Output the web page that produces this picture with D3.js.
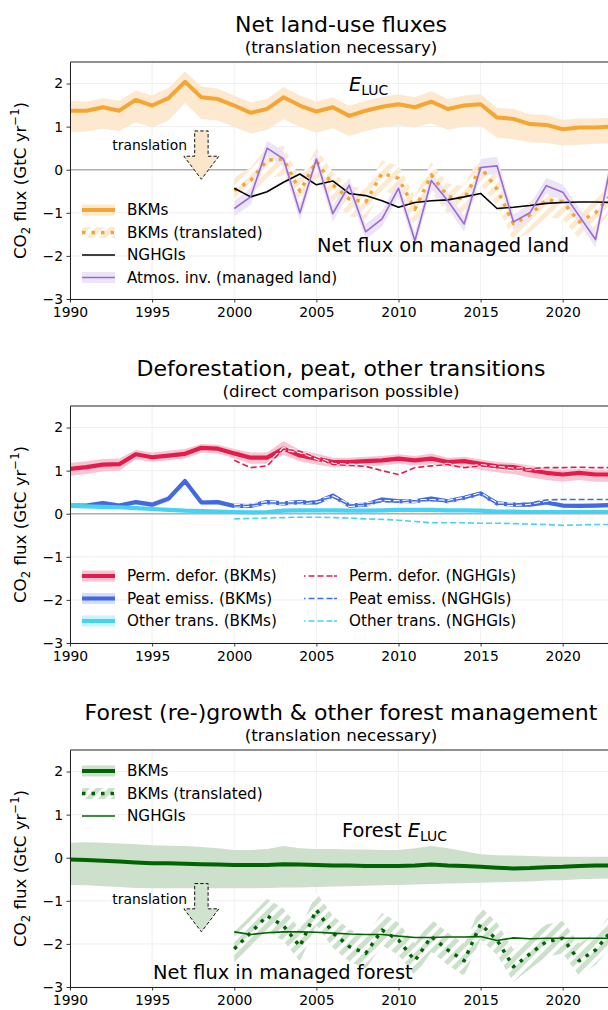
<!DOCTYPE html>
<html>
<head>
<meta charset="utf-8">
<script src="https://cdn.jsdelivr.net/npm/d3@7"></script>
<style>
  body { margin: 0; background: #fff; }
  svg { display: block; font-family: "DejaVu Sans", sans-serif; }
</style>
</head>
<body>
<svg id="chart" width="608" height="1010"></svg>
<script>
// ---------- data (GtC / yr) ----------
const years = d3.range(1990, 2024);       // BKM series
const yearsNG = d3.range(2000, 2024);     // inventory-era series
const xTicks = [1990, 1995, 2000, 2005, 2010, 2015, 2020];
const yTicks = [-3, -2, -1, 0, 1, 2];

// Panel 1: net land-use fluxes
const elucBKM = [1.37,1.37,1.45,1.37,1.62,1.49,1.66,2.04,1.68,1.64,
                 1.49,1.32,1.41,1.68,1.49,1.35,1.45,1.25,1.37,1.46,
                 1.52,1.45,1.58,1.41,1.49,1.52,1.21,1.18,1.06,1.04,
                 0.94,0.98,0.98,1.00];
const elucHi  = [1.60,1.58,1.66,1.60,1.84,1.72,1.90,2.28,1.93,1.88,
                 1.72,1.56,1.64,1.92,1.72,1.58,1.68,1.48,1.60,1.69,
                 1.75,1.68,1.82,1.64,1.72,1.75,1.44,1.41,1.29,1.27,
                 1.16,1.19,1.19,1.21];
const elucLo  = [0.87,0.89,0.95,0.90,1.10,0.98,1.14,1.55,1.18,1.14,
                 0.99,0.84,0.92,1.17,0.99,0.86,0.96,0.78,0.90,0.98,
                 1.03,0.98,1.08,0.93,1.00,1.02,0.74,0.71,0.64,0.62,
                 0.56,0.58,0.60,0.61];
const elucTrans   = [-0.48,-0.25,0.22,0.25,-0.50,0.20,-0.35,-0.68,-0.75,-0.08,
                     -0.20,-0.92,-0.12,-0.62,-0.68,0.06,-0.45,-1.25,-1.05,-0.70,
                     -0.74,-1.21,-1.00,-0.55];
const elucTransHi = [-0.18,0.05,0.52,0.55,-0.20,0.50,-0.05,-0.38,-0.45,0.22,
                     0.10,-0.62,0.18,-0.32,-0.38,0.36,-0.15,-0.95,-0.75,-0.40,
                     -0.44,-0.91,-0.70,-0.25];
const elucTransLo = [-0.88,-0.65,-0.18,-0.15,-0.90,-0.20,-0.75,-1.08,-1.15,-0.48,
                     -0.60,-1.32,-0.52,-1.02,-1.08,-0.34,-0.85,-1.65,-1.45,-1.10,
                     -1.14,-1.61,-1.40,-0.95];
const ngTotal = [-0.43,-0.63,-0.51,-0.29,-0.10,-0.35,-0.26,-0.55,-0.60,-0.72,
                 -0.87,-0.76,-0.72,-0.70,-0.63,-0.55,-0.90,-0.87,-0.83,-0.78,
                 -0.76,-0.75,-0.75,-0.76];
const atmos   = [-0.90,-0.63,0.50,0.25,-1.00,0.25,-1.02,-0.36,-1.44,-1.14,
                 -0.43,-1.65,-0.25,-0.72,-1.26,0.05,0.09,-1.21,-1.00,-0.37,
                 -0.52,-1.07,-1.62,0.25];
const atmosHi = [-0.72,-0.45,0.68,0.43,-0.82,0.43,-0.84,-0.18,-1.26,-0.96,
                 -0.25,-1.47,-0.07,-0.54,-1.08,0.25,0.30,-1.03,-0.82,-0.19,
                 -0.34,-0.89,-1.44,0.43];
const atmosLo = [-1.08,-0.81,0.32,0.07,-1.18,0.07,-1.20,-0.54,-1.62,-1.32,
                 -0.61,-1.83,-0.43,-0.90,-1.44,-0.13,-0.10,-1.39,-1.18,-0.55,
                 -0.70,-1.25,-1.80,0.07];

// Panel 2: deforestation, peat, other transitions
const deforBKM = [1.04,1.08,1.14,1.15,1.38,1.31,1.35,1.39,1.53,1.51,
                  1.40,1.30,1.30,1.51,1.35,1.28,1.20,1.20,1.22,1.24,
                  1.28,1.24,1.28,1.20,1.22,1.16,1.10,1.08,1.01,0.95,
                  0.91,0.95,0.91,0.91];
const deforHi  = [1.18,1.22,1.27,1.28,1.48,1.42,1.46,1.50,1.62,1.60,
                  1.50,1.42,1.42,1.68,1.48,1.40,1.30,1.30,1.32,1.34,
                  1.38,1.34,1.40,1.30,1.32,1.26,1.20,1.18,1.12,1.06,
                  1.02,1.05,1.02,1.02];
const deforLo  = [0.88,0.92,0.98,1.00,1.26,1.20,1.24,1.28,1.42,1.40,
                  1.28,1.16,1.16,1.36,1.22,1.14,1.08,1.08,1.10,1.12,
                  1.16,1.12,1.14,1.08,1.08,1.02,0.96,0.92,0.84,0.78,
                  0.74,0.78,0.74,0.74];
const deforNG  = [1.24,1.07,1.11,1.50,1.45,1.30,1.14,1.12,1.10,1.00,
                  0.91,1.07,1.11,1.14,1.07,1.11,1.07,1.03,1.05,1.07,
                  1.07,1.08,1.07,1.07];
const peatBKM  = [0.19,0.19,0.25,0.19,0.27,0.21,0.35,0.76,0.26,0.27,
                  0.18,0.18,0.27,0.24,0.27,0.26,0.42,0.19,0.21,0.33,
                  0.29,0.29,0.35,0.29,0.37,0.47,0.24,0.21,0.21,0.26,
                  0.19,0.18,0.19,0.20];
const peatHi   = [0.24,0.24,0.30,0.24,0.32,0.27,0.42,0.82,0.31,0.32,
                  0.23,0.23,0.32,0.29,0.32,0.31,0.47,0.24,0.26,0.38,
                  0.34,0.34,0.40,0.34,0.42,0.52,0.29,0.26,0.26,0.31,
                  0.24,0.23,0.24,0.25];
const peatLo   = [0.14,0.14,0.20,0.14,0.22,0.15,0.28,0.70,0.21,0.22,
                  0.13,0.13,0.22,0.19,0.22,0.21,0.37,0.14,0.16,0.28,
                  0.24,0.24,0.30,0.24,0.32,0.42,0.19,0.16,0.16,0.21,
                  0.14,0.13,0.14,0.15];
const peatNG   = [0.18,0.20,0.25,0.25,0.25,0.30,0.38,0.20,0.22,0.28,
                  0.27,0.30,0.30,0.28,0.35,0.45,0.22,0.22,0.25,0.32,
                  0.33,0.33,0.33,0.33];
const otherBKM = [0.18,0.17,0.16,0.15,0.13,0.11,0.09,0.07,0.06,0.05,
                  0.04,0.03,0.04,0.07,0.08,0.08,0.08,0.07,0.07,0.08,
                  0.09,0.09,0.09,0.08,0.08,0.07,0.05,0.05,0.04,0.04,
                  0.04,0.04,0.04,0.04];
const otherHi  = [0.21,0.20,0.19,0.18,0.16,0.14,0.12,0.10,0.09,0.08,
                  0.07,0.06,0.07,0.10,0.11,0.11,0.11,0.10,0.10,0.11,
                  0.12,0.12,0.12,0.11,0.11,0.10,0.08,0.08,0.07,0.07,
                  0.07,0.07,0.07,0.07];
const otherLo  = [0.15,0.14,0.13,0.12,0.10,0.08,0.06,0.04,0.03,0.02,
                  0.01,0.00,0.01,0.04,0.05,0.05,0.05,0.04,0.04,0.05,
                  0.06,0.06,0.06,0.05,0.05,0.04,0.02,0.02,0.01,0.01,
                  0.01,0.01,0.01,0.01];
const otherNG  = [-0.12,-0.11,-0.10,-0.09,-0.08,-0.08,-0.09,-0.10,-0.12,-0.13,
                  -0.15,-0.18,-0.21,-0.21,-0.21,-0.22,-0.22,-0.23,-0.24,-0.25,
                  -0.27,-0.26,-0.25,-0.25];

// Panel 3: forest (re-)growth & other forest management
const forestBKM = [-0.04,-0.05,-0.07,-0.09,-0.11,-0.13,-0.13,-0.14,-0.15,-0.16,
                   -0.17,-0.17,-0.17,-0.15,-0.16,-0.17,-0.18,-0.18,-0.19,-0.19,
                   -0.19,-0.18,-0.16,-0.18,-0.19,-0.21,-0.23,-0.25,-0.24,-0.22,
                   -0.21,-0.19,-0.18,-0.18];
const forestHi  = [0.35,0.36,0.35,0.33,0.31,0.29,0.28,0.27,0.25,0.22,
                   0.18,0.18,0.20,0.27,0.22,0.20,0.20,0.19,0.19,0.18,
                   0.18,0.22,0.27,0.22,0.15,0.08,0.06,0.05,0.04,0.03,
                   0.02,0.02,0.02,0.02];
const forestLo  = [-0.63,-0.64,-0.66,-0.68,-0.70,-0.71,-0.71,-0.71,-0.71,-0.71,
                   -0.71,-0.71,-0.70,-0.69,-0.69,-0.68,-0.67,-0.66,-0.65,-0.64,
                   -0.63,-0.62,-0.61,-0.60,-0.59,-0.58,-0.57,-0.56,-0.55,-0.53,
                   -0.52,-0.50,-0.49,-0.48];
const forestTrans   = [-2.12,-1.74,-1.35,-1.58,-2.06,-1.21,-1.74,-2.06,-2.22,-1.68,
                       -1.91,-2.39,-1.83,-2.14,-2.39,-1.54,-1.91,-2.53,-2.23,-1.95,
                       -1.87,-2.39,-2.14,-1.68];
const forestTransHi = [-1.72,-1.34,-0.95,-1.18,-1.66,-0.81,-1.34,-1.66,-1.82,-1.28,
                       -1.51,-1.99,-1.43,-1.74,-1.99,-1.14,-1.51,-2.13,-1.83,-1.55,
                       -1.47,-1.99,-1.74,-1.28];
const forestTransLo = [-2.47,-2.09,-1.70,-1.93,-2.41,-1.56,-2.09,-2.41,-2.57,-2.03,
                       -2.26,-2.74,-2.18,-2.49,-2.74,-1.89,-2.26,-2.88,-2.58,-2.30,
                       -2.22,-2.74,-2.49,-2.03];
const forestNG = [-1.72,-1.78,-1.74,-1.72,-1.72,-1.73,-1.75,-1.77,-1.78,-1.78,
                  -1.82,-1.85,-1.85,-1.84,-1.84,-1.83,-1.92,-1.86,-1.88,-1.87,
                  -1.87,-1.87,-1.87,-1.87];

// ---------- styling ----------
const C = {
  orange: "#f5a532", orangeBand: "#fde9cf", orangeArrow: "#fce6c9",
  purple: "#9a6acf", purpleBand: "#ece4f7",
  red: "#e31c4c", redBand: "#f7c5d1",
  blue: "#4169e1", blueBand: "#d5ddf8",
  cyan: "#45d2f3", cyanBand: "#cdf2fb",
  green: "#006400", greenBand: "#cce0cc", greenArrow: "#cfe3cf",
  grid: "#ebebeb", zero: "#b0b0b0"
};
const FS_TICK = 13.9, FS_LEG = 15.2, FS_TITLE = 22, FS_SUB = 16.7, FS_ANN = 19.4;

const svg = d3.select("#chart");
const defs = svg.append("defs");
const X0 = 70, X1 = 612, PH = 237;
const x = d3.scaleLinear().domain([1990, 2023]).range([X0, X1]);

function hatch(id, bg) {
  const p = defs.append("pattern").attr("id", id)
    .attr("patternUnits", "userSpaceOnUse")
    .attr("width", 9).attr("height", 9)
    .attr("patternTransform", "rotate(45)");
  p.append("rect").attr("width", 9).attr("height", 9).attr("fill", bg);
  p.append("rect").attr("width", 4).attr("height", 9).attr("fill", "#fff");
}
hatch("hatchOrange", C.orangeBand);
hatch("hatchGreen", C.greenBand);

const pairs = (ts, vs) => ts.map((t, i) => [t, vs[i]]);
const triples = (ts, lo, hi) => ts.map((t, i) => [t, lo[i], hi[i]]);

function makePanel(top, idx, title, subtitle) {
  const y = d3.scaleLinear().domain([-3, 2.5]).range([top + PH, top]);
  const g = svg.append("g");
  defs.append("clipPath").attr("id", "clip" + idx)
    .append("rect").attr("x", X0).attr("y", top).attr("width", X1 - X0).attr("height", PH);

  // grid
  const grid = g.append("g").attr("stroke", C.grid).attr("stroke-width", 0.8);
  grid.selectAll(".gx").data(xTicks).join("line")
    .attr("x1", d => x(d)).attr("x2", d => x(d)).attr("y1", top).attr("y2", top + PH);
  grid.selectAll(".gy").data(yTicks).join("line")
    .attr("x1", X0).attr("x2", X1).attr("y1", d => y(d)).attr("y2", d => y(d));

  // zero reference
  g.append("line").attr("x1", X0).attr("x2", X1).attr("y1", y(0)).attr("y2", y(0))
    .attr("stroke", C.zero).attr("stroke-width", 1.6);

  const plot = g.append("g").attr("clip-path", `url(#clip${idx})`);

  // axes
  const ax = g.append("g").attr("transform", `translate(0,${top + PH})`)
    .call(d3.axisBottom(x).tickValues(xTicks).tickFormat(d3.format("d"))
      .tickSize(3.5).tickPadding(3).tickSizeOuter(0));
  const ay = g.append("g").attr("transform", `translate(${X0},0)`)
    .call(d3.axisLeft(y).tickValues(yTicks).tickFormat(d3.format("d"))
      .tickSize(3.5).tickPadding(3.5).tickSizeOuter(0));
  [ax, ay].forEach(a => {
    a.selectAll("text").attr("font-size", FS_TICK).attr("font-family", "DejaVu Sans").attr("fill", "#000");
    a.selectAll("line").attr("stroke", "#222").attr("stroke-width", 0.9);
    a.select(".domain").attr("stroke", "#222").attr("stroke-width", 1);
  });
  ax.selectAll("text").attr("dy", "0.85em");
  g.append("line").attr("x1", X0).attr("x2", X1).attr("y1", top).attr("y2", top)
    .attr("stroke", "#222").attr("stroke-width", 1);
  g.append("line").attr("x1", X1).attr("x2", X1).attr("y1", top).attr("y2", top + PH)
    .attr("stroke", "#222").attr("stroke-width", 1);

  // y label
  const yl = g.append("text")
    .attr("transform", `translate(26,${top + PH / 2}) rotate(-90)`)
    .attr("text-anchor", "middle").attr("font-size", 16.7);
  yl.append("tspan").text("CO");
  yl.append("tspan").attr("font-size", "70%").attr("dy", 4).text("2");
  yl.append("tspan").attr("dy", -4).text(" flux (GtC yr");
  yl.append("tspan").attr("font-size", "70%").attr("dy", -7).text("−1");
  yl.append("tspan").attr("dy", 7).text(")");

  // titles
  g.append("text").attr("x", (X0 + X1) / 2).attr("y", top - 30)
    .attr("text-anchor", "middle").attr("font-size", FS_TITLE).text(title);
  g.append("text").attr("x", (X0 + X1) / 2).attr("y", top - 9)
    .attr("text-anchor", "middle").attr("font-size", FS_SUB).text(subtitle);

  return { g, y, plot, top };
}

function band(p, data, fill) {
  p.plot.append("path").datum(data)
    .attr("d", d3.area().x(d => x(d[0])).y0(d => p.y(d[1])).y1(d => p.y(d[2])))
    .attr("fill", fill).attr("stroke", "none");
}
function line(p, data, color, width, dash, halo) {
  const gen = d3.line().x(d => x(d[0])).y(d => p.y(d[1]));
  if (halo) {
    p.plot.append("path").datum(data).attr("d", gen).attr("fill", "none")
      .attr("stroke", "#fff").attr("stroke-width", width + 2.2)
      .attr("stroke-dasharray", dash || null);
  }
  p.plot.append("path").datum(data).attr("d", gen).attr("fill", "none")
    .attr("stroke", color).attr("stroke-width", width)
    .attr("stroke-linejoin", "round")
    .attr("stroke-dasharray", dash || null);
}

// legend handles
function legendItem(g, hx, ty, label, kind, color, bg) {
  const hw = 33, tx = hx + 45;
  if (kind === "band") {
    g.append("rect").attr("x", hx).attr("y", ty - 5.5).attr("width", hw).attr("height", 11).attr("fill", bg);
    g.append("line").attr("x1", hx).attr("x2", hx + hw).attr("y1", ty).attr("y2", ty)
      .attr("stroke", color).attr("stroke-width", 4);
  } else if (kind === "hatchdot") {
    g.append("rect").attr("x", hx).attr("y", ty - 5.5).attr("width", hw).attr("height", 11).attr("fill", bg);
    g.append("line").attr("x1", hx).attr("x2", hx + hw).attr("y1", ty).attr("y2", ty)
      .attr("stroke", color).attr("stroke-width", 3.5).attr("stroke-dasharray", "3.5,6");
  } else if (kind === "line") {
    g.append("line").attr("x1", hx).attr("x2", hx + hw).attr("y1", ty).attr("y2", ty)
      .attr("stroke", color).attr("stroke-width", 1.6);
  } else if (kind === "bandthin") {
    g.append("rect").attr("x", hx).attr("y", ty - 5.5).attr("width", hw).attr("height", 11).attr("fill", bg);
    g.append("line").attr("x1", hx).attr("x2", hx + hw).attr("y1", ty).attr("y2", ty)
      .attr("stroke", color).attr("stroke-width", 1.6);
  } else if (kind === "dash") {
    g.append("line").attr("x1", hx).attr("x2", hx + hw).attr("y1", ty).attr("y2", ty)
      .attr("stroke", "#fff").attr("stroke-width", 3.6).attr("stroke-dasharray", "1.5,3,6,3,6,3,6");
    g.append("line").attr("x1", hx).attr("x2", hx + hw).attr("y1", ty).attr("y2", ty)
      .attr("stroke", color).attr("stroke-width", 1.6).attr("stroke-dasharray", "1.5,3,6,3,6,3,6");
  }
  g.append("text").attr("x", tx).attr("y", ty).attr("dy", "0.36em")
    .attr("font-size", FS_LEG).text(label);
}

function arrow(p, xv, fromV, toV, fill) {
  const cx = x(xv), y0 = p.y(fromV), y1 = p.y(toV);
  const sw = 6.7, hw = 17.5, hl = 23;
  const pts = [[cx - sw, y0], [cx + sw, y0], [cx + sw, y1 - hl], [cx + hw, y1 - hl],
               [cx, y1], [cx - hw, y1 - hl], [cx - sw, y1 - hl]];
  p.g.append("polygon").attr("points", pts.map(d => d.join(",")).join(" "))
    .attr("fill", fill).attr("stroke", "#111").attr("stroke-width", 1)
    .attr("stroke-dasharray", "3.5,2");
}

// ---------- panel 1 ----------
const p1 = makePanel(62, 1, "Net land-use fluxes", "(translation necessary)");
band(p1, triples(years, elucLo, elucHi), C.orangeBand);
band(p1, triples(yearsNG, elucTransLo, elucTransHi), "url(#hatchOrange)");
band(p1, triples(yearsNG, atmosLo, atmosHi), C.purpleBand);
line(p1, pairs(years, elucBKM), C.orange, 4);
line(p1, pairs(yearsNG, elucTrans), C.orange, 3.5, "3.5,6");
line(p1, pairs(yearsNG, ngTotal), "#000", 1.6);
line(p1, pairs(yearsNG, atmos), C.purple, 1.6);
arrow(p1, 1998, 0.9, -0.22, C.orangeArrow);
p1.g.append("text").attr("x", 187).attr("y", 150).attr("text-anchor", "end")
  .attr("font-size", 13.9).text("translation");
const e1 = p1.g.append("text").attr("x", 349).attr("y", 91).attr("font-size", FS_ANN);
e1.append("tspan").attr("font-style", "italic").text("E");
e1.append("tspan").attr("font-size", "72%").attr("dy", 4).text("LUC");
p1.g.append("text").attr("x", 317).attr("y", 252).attr("font-size", FS_ANN)
  .text("Net flux on managed land");
const l1 = p1.g.append("g");
legendItem(l1, 82, 210, "BKMs", "band", C.orange, C.orangeBand);
legendItem(l1, 82, 232.5, "BKMs (translated)", "hatchdot", C.orange, "url(#hatchOrange)");
legendItem(l1, 82, 255, "NGHGIs", "line", "#000");
legendItem(l1, 82, 277.5, "Atmos. inv. (managed land)", "bandthin", C.purple, C.purpleBand);

// ---------- panel 2 ----------
const p2 = makePanel(406, 2, "Deforestation, peat, other transitions", "(direct comparison possible)");
band(p2, triples(years, deforLo, deforHi), C.redBand);
band(p2, triples(years, peatLo, peatHi), C.blueBand);
band(p2, triples(years, otherLo, otherHi), C.cyanBand);
line(p2, pairs(years, deforBKM), C.red, 4.2);
line(p2, pairs(years, peatBKM), C.blue, 4.2);
line(p2, pairs(years, otherBKM), C.cyan, 4.2);
line(p2, pairs(yearsNG, deforNG), C.red, 1.6, "6,3", true);
line(p2, pairs(yearsNG, peatNG), C.blue, 1.6, "6,3", true);
line(p2, pairs(yearsNG, otherNG), C.cyan, 1.6, "6,3", true);
const l2 = p2.g.append("g");
legendItem(l2, 82, 576, "Perm. defor. (BKMs)", "band", C.red, C.redBand);
legendItem(l2, 82, 598.5, "Peat emiss. (BKMs)", "band", C.blue, C.blueBand);
legendItem(l2, 82, 621, "Other trans. (BKMs)", "band", C.cyan, C.cyanBand);
legendItem(l2, 304, 576, "Perm. defor. (NGHGIs)", "dash", C.red);
legendItem(l2, 304, 598.5, "Peat emiss. (NGHGIs)", "dash", C.blue);
legendItem(l2, 304, 621, "Other trans. (NGHGIs)", "dash", C.cyan);

// ---------- panel 3 ----------
const p3 = makePanel(750, 3, "Forest (re-)growth & other forest management", "(translation necessary)");
band(p3, triples(years, forestLo, forestHi), C.greenBand);
band(p3, triples(yearsNG, forestTransLo, forestTransHi), "url(#hatchGreen)");
line(p3, pairs(years, forestBKM), C.green, 4);
line(p3, pairs(yearsNG, forestTrans), C.green, 3.5, "3.5,6");
line(p3, pairs(yearsNG, forestNG), C.green, 1.6);
arrow(p3, 1998, -0.6, -1.72, C.greenArrow);
p3.g.append("text").attr("x", 187).attr("y", 904).attr("text-anchor", "end")
  .attr("font-size", 13.9).text("translation");
const e3 = p3.g.append("text").attr("x", 342).attr("y", 837).attr("font-size", FS_ANN);
e3.append("tspan").text("Forest ");
e3.append("tspan").attr("font-style", "italic").text("E");
e3.append("tspan").attr("font-size", "72%").attr("dy", 4).text("LUC");
p3.g.append("text").attr("x", 153).attr("y", 979).attr("font-size", FS_ANN)
  .text("Net flux in managed forest");
const l3 = p3.g.append("g");
legendItem(l3, 82, 771, "BKMs", "band", C.green, C.greenBand);
legendItem(l3, 82, 793.5, "BKMs (translated)", "hatchdot", C.green, "url(#hatchGreen)");
legendItem(l3, 82, 816, "NGHGIs", "line", C.green);
</script>
</body>
</html>
